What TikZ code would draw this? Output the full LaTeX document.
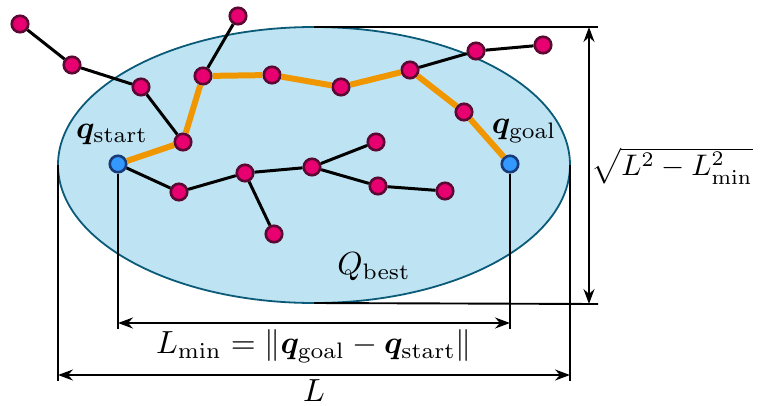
\documentclass[tikz,border=0pt]{standalone}
\usepackage{amsmath,bm}
\usetikzlibrary{arrows.meta,shapes.geometric}
\definecolor{nodefill}{RGB}{232,0,112}
\definecolor{nodeborder}{RGB}{90,10,50}
\definecolor{endfill}{RGB}{51,153,255}
\definecolor{endborder}{RGB}{25,60,120}
\definecolor{ellfill}{RGB}{190,228,243}
\definecolor{ellborder}{RGB}{10,90,120}
\definecolor{pathorange}{RGB}{240,150,0}
\begin{document}
\begin{tikzpicture}[x=1pt,y=-1pt,
  vtx/.style={circle,draw=nodeborder,fill=nodefill,line width=2.6pt,minimum size=16.5pt,inner sep=0pt},
  endv/.style={vtx,draw=endborder,fill=endfill},
  treeedge/.style={line width=3pt,black},
  bestpath/.style={line width=6pt,pathorange},
  dimline/.style={line width=1.9pt,black},
  dimarrow/.style={dimline,{Stealth[length=15pt,width=11pt,inset=5pt]}-{Stealth[length=15pt,width=11pt,inset=5pt]}},
  lbl/.style={scale=3.2,inner sep=0pt}]
\useasboundingbox (0,0) rectangle (760,405);
\begin{scope}
\clip (0,0) rectangle (760,405);
% ellipse
\node[ellipse,draw=ellborder,fill=ellfill,line width=1.8pt,minimum width=512pt,minimum height=276pt,inner sep=0pt,outer sep=0pt] (E) at (314,165) {};
% coordinates for dimensions
\coordinate (tr) at (598,27);
\coordinate (br) at (598,304);
\coordinate (vt) at (589,27);
\coordinate (vb) at (589,304);
\coordinate (sb) at (118,329);
\coordinate (gb) at (510,329);
\coordinate (la) at (118,323);
\coordinate (lb) at (510,323);
\coordinate (wb) at (58,381);
\coordinate (eb) at (570,381);
\coordinate (Wa) at (58,375);
\coordinate (Ea) at (570,375);
% vertices
\node[endv] (s) at (118,164) {};
\node[endv] (g) at (510,164) {};
\node[vtx] (a1) at (20,24) {};
\node[vtx] (a2) at (72,65) {};
\node[vtx] (a3) at (141,87) {};
\node[vtx] (p1) at (183,142) {};
\node[vtx] (b1) at (238,16) {};
\node[vtx] (p2) at (203,76) {};
\node[vtx] (p3) at (272,75) {};
\node[vtx] (p4) at (341,87) {};
\node[vtx] (p5) at (410,70) {};
\node[vtx] (p6) at (464,112) {};
\node[vtx] (c1) at (476,51) {};
\node[vtx] (c2) at (543,45) {};
\node[vtx] (d1) at (179,192) {};
\node[vtx] (d2) at (245,173) {};
\node[vtx] (d3) at (312,167) {};
\node[vtx] (d4) at (274,234) {};
\node[vtx] (d5) at (376,142) {};
\node[vtx] (d6) at (378,186) {};
\node[vtx] (d7) at (445,191) {};
% dimension lines
\draw[dimline] (E.north) -- (tr);
\draw[dimline] (E.south) -- (br);
\draw[dimarrow] (vt) -- (vb);
\draw[dimline] (s) -- (sb);
\draw[dimline] (g) -- (gb);
\draw[dimarrow] (la) -- (lb);
\draw[dimline] (E.west) -- (wb);
\draw[dimline] (E.east) -- (eb);
\draw[dimarrow] (Wa) -- (Ea);
% tree edges
\draw[treeedge] (a1) -- (a2);
\draw[treeedge] (a2) -- (a3);
\draw[treeedge] (a3) -- (p1);
\draw[treeedge] (b1) -- (p2);
\draw[treeedge] (p5) -- (c1);
\draw[treeedge] (c1) -- (c2);
\draw[treeedge] (s) -- (d1);
\draw[treeedge] (d1) -- (d2);
\draw[treeedge] (d2) -- (d3);
\draw[treeedge] (d2) -- (d4);
\draw[treeedge] (d3) -- (d5);
\draw[treeedge] (d3) -- (d6);
\draw[treeedge] (d6) -- (d7);
% best path
\draw[bestpath] (s) -- (p1);
\draw[bestpath] (p1) -- (p2);
\draw[bestpath] (p2) -- (p3);
\draw[bestpath] (p3) -- (p4);
\draw[bestpath] (p4) -- (p5);
\draw[bestpath] (p5) -- (p6);
\draw[bestpath] (p6) -- (g);
% labels
\node[lbl] (qs) at (112,134) {$\bm{q}_{\text{start}}$};
\node[lbl] (qg) at (524,131) {$\bm{q}_{\text{goal}}$};
\node[lbl] (qb) at (374,267) {$Q_{\text{best}}$};
\node[lbl] (lmin) at (314,346) {$L_{\min} = \lVert \bm{q}_{\text{goal}} - \bm{q}_{\text{start}} \rVert$};
\node[lbl] (ll) at (314,391) {$L$};
\node[lbl,scale=0.93,anchor=west] (sq) at (591,166) {$\sqrt{L^2 - L_{\min}^2}$};
\end{scope}
\end{tikzpicture}
\end{document}
